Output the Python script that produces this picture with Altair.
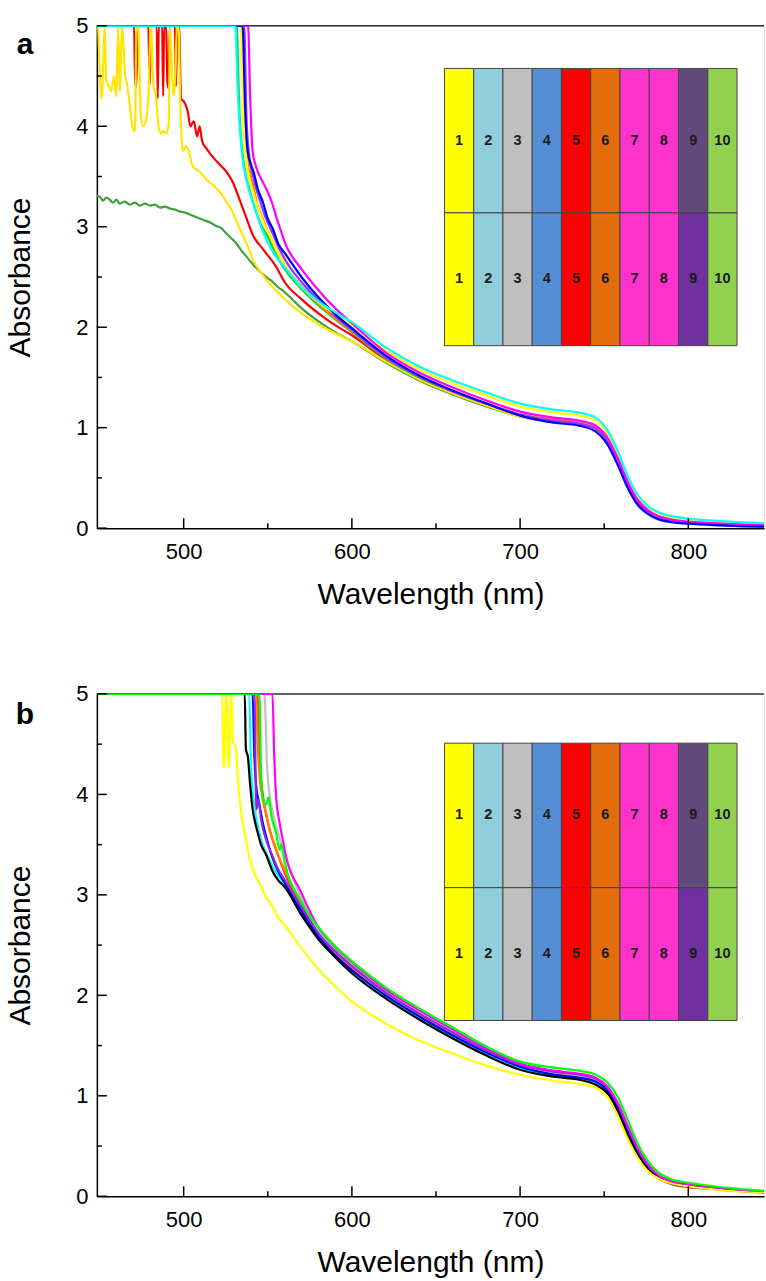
import altair as alt
import pandas as pd

FONT = "Liberation Sans"

# ---------------- shared wavelength grid for the smooth part of every curve ----------------
GRID = [560, 570, 580, 590, 600, 620, 640, 660, 680, 700, 720, 735, 745, 752, 758, 764, 770,
        776, 782, 790, 800, 815, 830, 845]

# ---------------- panel a : heads (short-wavelength part) and tails (values on GRID) ----------------
A_DKGREEN_WL = [445, 450, 452, 454, 456, 458, 460, 462, 465, 468, 471, 474, 477, 480, 483, 486, 489,
                492, 495, 498, 501, 504, 507, 510, 513, 516, 519, 522, 525, 528, 531, 534, 537, 541,
                545, 549, 553, 556]
A_DKGREEN_AB = [3.31, 3.30, 3.26, 3.29, 3.27, 3.24, 3.27, 3.23, 3.25, 3.22, 3.24, 3.21, 3.23, 3.21,
                3.22, 3.19, 3.20, 3.18, 3.17, 3.15, 3.14, 3.12, 3.10, 3.08, 3.06, 3.04, 3.01, 2.99,
                2.94, 2.89, 2.84, 2.77, 2.71, 2.63, 2.56, 2.50, 2.45, 2.40]
A_DKGREEN_TAIL = [2.35, 2.19, 2.06, 1.95, 1.86, 1.65, 1.47, 1.33, 1.21, 1.11, 1.06, 1.04, 0.99, 0.87,
                  0.68, 0.45, 0.27, 0.17, 0.12, 0.08, 0.06, 0.045, 0.035, 0.028]

A_RED_WL = [445, 470.5, 471.2, 471.9, 472.6, 479, 479.8, 480.6, 484, 484.6, 485.2, 487.2, 487.8,
            488.4, 489.6, 490.3, 491, 491.8, 492.5, 494.8, 495.4, 496.2, 497.2, 498.5, 500, 502.4,
            504, 506, 508, 509.5, 511, 513.5, 517, 521.4, 525.3, 529, 533, 537, 541, 547, 555]
A_RED_AB = [5, 5, 4.40, 4.40, 5, 5, 4.42, 5, 5, 4.28, 5, 5, 4.30, 5, 5, 4.45, 4.38, 5, 5, 5, 4.40,
            5, 5, 4.27, 4.25, 4.15, 4.00, 4.05, 3.90, 4.00, 3.85, 3.78, 3.70, 3.62, 3.55, 3.45, 3.28,
            3.10, 2.92, 2.78, 2.60]
A_RED_TAIL = [2.45, 2.28, 2.14, 2.02, 1.92, 1.68, 1.50, 1.35, 1.23, 1.12, 1.07, 1.04, 0.99, 0.87,
              0.67, 0.44, 0.26, 0.16, 0.11, 0.075, 0.055, 0.04, 0.03, 0.022]

A_YEL1_WL = [445, 449, 450, 451, 452, 453, 454, 455.5, 457, 458.5, 460, 461, 462, 463.5, 465, 466.5,
             468, 469.5, 471, 472, 473, 474.5, 476, 477.5, 479, 480.5, 482, 483.5, 485, 486.5, 488,
             489.5, 491, 492, 493, 494, 495, 496, 497, 498, 499.5, 501, 502.5, 505.4, 509.5, 513.5,
             517, 521.4, 525.3, 529, 533.3, 537, 541, 547, 553]
A_YEL1_AB = [5, 5, 4.60, 4.27, 4.50, 5, 4.45, 4.40, 4.35, 4.50, 4.30, 5, 4.35, 5, 4.55, 4.40, 4.20,
             4.00, 3.95, 5, 5, 4.10, 4.00, 4.05, 4.30, 5, 4.40, 4.30, 4.00, 3.93, 3.95, 3.93, 4.00, 5,
             4.60, 4.30, 4.50, 5, 5, 4.20, 3.75, 3.80, 3.78, 3.60, 3.55, 3.47, 3.42, 3.35, 3.25, 3.15,
             2.98, 2.85, 2.68, 2.52, 2.40]
A_YEL1_TAIL = [2.28, 2.14, 2.03, 1.94, 1.86, 1.66, 1.48, 1.34, 1.22, 1.11, 1.06, 1.04, 0.99, 0.87,
               0.68, 0.45, 0.27, 0.17, 0.12, 0.08, 0.06, 0.045, 0.035, 0.028]

A_LIME_WL = [445, 531.5, 533, 536, 539, 542, 546, 550, 555]
A_LIME_AB = [5, 5, 4.20, 3.60, 3.38, 3.20, 3.02, 2.90, 2.72]
A_LIME_TAIL = [2.58, 2.38, 2.22, 2.08, 1.95, 1.69, 1.50, 1.36, 1.24, 1.13, 1.08, 1.05, 1.00, 0.88,
               0.68, 0.45, 0.27, 0.17, 0.12, 0.08, 0.06, 0.045, 0.035, 0.025]

A_ORANGE_WL = [445, 535.5, 536.8, 539, 541.5, 543.4, 547, 550, 555]
A_ORANGE_AB = [5, 5, 4.00, 3.60, 3.40, 3.25, 3.08, 2.96, 2.78]
A_ORANGE_TAIL = [2.62, 2.41, 2.24, 2.09, 1.96, 1.70, 1.51, 1.36, 1.24, 1.13, 1.08, 1.05, 1.00, 0.88,
                 0.68, 0.45, 0.27, 0.17, 0.12, 0.08, 0.06, 0.045, 0.035, 0.025]

A_PURPLE_WL = [445, 536, 537.3, 539, 541, 545, 549, 553, 556]
A_PURPLE_AB = [5, 5, 4.10, 3.70, 3.52, 3.28, 3.08, 2.93, 2.81]
A_PURPLE_TAIL = [2.68, 2.45, 2.27, 2.11, 1.97, 1.70, 1.51, 1.36, 1.24, 1.13, 1.07, 1.04, 0.99, 0.86,
                 0.66, 0.43, 0.26, 0.16, 0.11, 0.075, 0.055, 0.04, 0.03, 0.02]

A_YEL2_WL = [445, 534, 535.3, 537.5, 540, 543, 547, 551, 555]
A_YEL2_AB = [5, 5, 4.10, 3.62, 3.42, 3.25, 3.06, 2.92, 2.78]
A_YEL2_TAIL = [2.62, 2.40, 2.25, 2.13, 2.02, 1.77, 1.58, 1.44, 1.32, 1.21, 1.15, 1.12, 1.07, 0.94,
               0.74, 0.50, 0.31, 0.21, 0.15, 0.11, 0.09, 0.07, 0.055, 0.045]

A_MAGENTA_WL = [445, 538.3, 539.5, 541, 543, 546, 549, 552.3, 555, 558]
A_MAGENTA_AB = [5, 5, 4.30, 3.75, 3.60, 3.48, 3.38, 3.25, 3.10, 2.95]
A_MAGENTA_TAIL = [2.85, 2.58, 2.37, 2.19, 2.04, 1.75, 1.55, 1.40, 1.27, 1.16, 1.10, 1.07, 1.02, 0.90,
                  0.70, 0.46, 0.28, 0.18, 0.12, 0.085, 0.065, 0.05, 0.04, 0.03]

A_BLUE_WL = [445, 535, 536.5, 538, 540, 542, 544, 547, 550, 553, 556.5]
A_BLUE_AB = [5, 5, 4.20, 3.75, 3.62, 3.52, 3.38, 3.25, 3.08, 2.98, 2.82]
A_BLUE_TAIL = [2.74, 2.50, 2.30, 2.13, 1.99, 1.72, 1.52, 1.37, 1.24, 1.12, 1.05, 1.02, 0.96, 0.83,
               0.63, 0.40, 0.23, 0.14, 0.09, 0.06, 0.045, 0.03, 0.02, 0.015]

A_CYAN_WL = [445, 530.7, 532, 534.5, 537.5, 541, 546, 553]
A_CYAN_AB = [5, 5, 4.40, 3.75, 3.45, 3.25, 3.00, 2.75]
A_CYAN_TAIL = [2.60, 2.40, 2.26, 2.15, 2.05, 1.80, 1.61, 1.47, 1.35, 1.24, 1.18, 1.15, 1.10, 0.97,
               0.77, 0.52, 0.33, 0.22, 0.16, 0.12, 0.095, 0.075, 0.06, 0.05]

# ---------------- panel b ----------------
B_RED_WL = [445, 544, 545, 547, 549, 552, 556]
B_RED_AB = [5, 5, 4.40, 4.00, 3.80, 3.60, 3.40]
B_RED_TAIL = [3.22, 2.88, 2.60, 2.41, 2.26, 2.00, 1.80, 1.61, 1.43, 1.29, 1.22, 1.19, 1.15, 1.05,
              0.88, 0.64, 0.42, 0.27, 0.18, 0.12, 0.09, 0.07, 0.05, 0.035]

B_ORANGE_WL = [445, 543, 544, 545, 547, 549, 551, 554, 557]
B_ORANGE_AB = [5, 5, 4.50, 4.20, 3.95, 3.82, 3.65, 3.50, 3.36]
B_ORANGE_TAIL = [3.25, 2.90, 2.62, 2.43, 2.28, 2.02, 1.81, 1.62, 1.44, 1.30, 1.22, 1.19, 1.15, 1.06,
                 0.89, 0.66, 0.44, 0.29, 0.19, 0.13, 0.10, 0.075, 0.055, 0.04]

B_GRAY_WL = [445, 548, 549.5, 551, 553, 556]
B_GRAY_AB = [5, 5, 4.30, 4.00, 3.82, 3.62]
B_GRAY_TAIL = [3.40, 2.97, 2.65, 2.45, 2.30, 2.03, 1.82, 1.63, 1.45, 1.30, 1.23, 1.20, 1.16, 1.07,
               0.90, 0.67, 0.45, 0.30, 0.20, 0.14, 0.11, 0.08, 0.06, 0.045]

B_CYAN_WL = [445, 539, 540, 541.5, 543, 546, 549, 553, 556]
B_CYAN_AB = [5, 5, 4.30, 3.95, 3.78, 3.55, 3.42, 3.28, 3.20]
B_CYAN_TAIL = [3.10, 2.82, 2.58, 2.39, 2.24, 1.98, 1.77, 1.59, 1.42, 1.28, 1.20, 1.17, 1.13, 1.04,
               0.87, 0.63, 0.42, 0.28, 0.19, 0.13, 0.10, 0.075, 0.055, 0.04]

B_BLUE_WL = [445, 541, 542, 543, 545, 547, 550, 553, 556]
B_BLUE_AB = [5, 5, 4.40, 4.10, 3.90, 3.72, 3.52, 3.36, 3.24]
B_BLUE_TAIL = [3.12, 2.84, 2.59, 2.40, 2.25, 2.00, 1.79, 1.60, 1.43, 1.29, 1.21, 1.18, 1.14, 1.05,
               0.88, 0.64, 0.43, 0.28, 0.19, 0.13, 0.10, 0.075, 0.055, 0.04]

B_PURPLE_WL = [445, 542, 543.2, 544.5, 546, 549, 553, 556]
B_PURPLE_AB = [5, 5, 3.85, 3.95, 3.75, 3.55, 3.38, 3.26]
B_PURPLE_TAIL = [3.15, 2.88, 2.62, 2.44, 2.29, 2.03, 1.82, 1.63, 1.45, 1.31, 1.24, 1.21, 1.17, 1.08,
                 0.92, 0.69, 0.47, 0.31, 0.21, 0.15, 0.115, 0.085, 0.065, 0.05]

B_BLACK_WL = [445, 536.3, 537, 538.2, 539.5, 541, 542.5, 544, 546, 549, 553, 556]
B_BLACK_AB = [5, 5, 4.45, 4.37, 4.10, 3.85, 3.72, 3.62, 3.50, 3.40, 3.23, 3.15]
B_BLACK_TAIL = [3.08, 2.80, 2.56, 2.38, 2.22, 1.97, 1.76, 1.57, 1.40, 1.26, 1.19, 1.16, 1.11, 1.02,
                0.85, 0.61, 0.41, 0.27, 0.19, 0.14, 0.11, 0.08, 0.06, 0.045]

B_YELLOW_WL = [445, 523, 523.5, 524.3, 525, 525.7, 526.5, 527.2, 527.8, 528.5, 529.3, 530.3, 531.3,
               532.3, 534.2, 537.2, 539.2, 542, 545.1, 549.1, 553, 556]
B_YELLOW_AB = [5, 5, 4.27, 4.27, 5, 5, 4.27, 4.27, 5, 5, 4.52, 4.50, 4.40, 4.14, 3.81, 3.54, 3.36,
               3.22, 3.11, 2.98, 2.88, 2.78]
B_YELLOW_TAIL = [2.70, 2.47, 2.26, 2.09, 1.94, 1.72, 1.55, 1.42, 1.30, 1.21, 1.15, 1.12, 1.08, 0.99,
                 0.80, 0.57, 0.38, 0.25, 0.18, 0.13, 0.10, 0.07, 0.05, 0.04]

B_MAGENTA_WL = [445, 552.8, 553.8, 555, 557, 559]
B_MAGENTA_AB = [5, 5, 4.40, 3.97, 3.72, 3.54]
B_MAGENTA_TAIL = [3.45, 3.02, 2.68, 2.48, 2.33, 2.06, 1.85, 1.66, 1.47, 1.32, 1.25, 1.22, 1.18, 1.09,
                  0.93, 0.70, 0.48, 0.32, 0.21, 0.15, 0.12, 0.09, 0.065, 0.05]

B_GREEN_WL = [445, 545, 546, 547, 549, 550.5, 552, 555, 557, 558]
B_GREEN_AB = [5, 5, 4.20, 3.97, 3.90, 3.97, 3.80, 3.61, 3.45, 3.50]
B_GREEN_TAIL = [3.33, 2.93, 2.68, 2.49, 2.34, 2.08, 1.87, 1.68, 1.49, 1.34, 1.28, 1.25, 1.21, 1.13,
                0.99, 0.76, 0.52, 0.35, 0.24, 0.17, 0.135, 0.10, 0.075, 0.055]

# ---------------- inset (colour key) ----------------
CELL_LABELS = ["1", "2", "3", "4", "5", "6", "7", "8", "9", "10"]
ROW1_COLORS = ["#FFFF00", "#92CDDC", "#BFBFBF", "#558ED5", "#FF0000", "#E46C0A", "#FF33CC",
               "#FF33CC", "#604A7B", "#92D050"]
ROW2_COLORS = ["#FFFF00", "#92CDDC", "#BFBFBF", "#558ED5", "#FF0000", "#E46C0A", "#FF33CC",
               "#FF33CC", "#7030A0", "#92D050"]

# ---------------- axis tick values ----------------
X_MAJOR = [500, 600, 700, 800]
X_MINOR = [550, 650, 750]
Y_MAJOR = [0, 1, 2, 3, 4, 5]
Y_MINOR = [0.5, 1.5, 2.5, 3.5, 4.5]

# ---------------- series (drawing order) and styles ----------------
SERIES_A = [
    ("dkgreen", A_DKGREEN_WL, A_DKGREEN_AB, A_DKGREEN_TAIL),
    ("red", A_RED_WL, A_RED_AB, A_RED_TAIL),
    ("yel1", A_YEL1_WL, A_YEL1_AB, A_YEL1_TAIL),
    ("lime", A_LIME_WL, A_LIME_AB, A_LIME_TAIL),
    ("orange", A_ORANGE_WL, A_ORANGE_AB, A_ORANGE_TAIL),
    ("purple", A_PURPLE_WL, A_PURPLE_AB, A_PURPLE_TAIL),
    ("yel2", A_YEL2_WL, A_YEL2_AB, A_YEL2_TAIL),
    ("magenta", A_MAGENTA_WL, A_MAGENTA_AB, A_MAGENTA_TAIL),
    ("blue", A_BLUE_WL, A_BLUE_AB, A_BLUE_TAIL),
    ("cyan", A_CYAN_WL, A_CYAN_AB, A_CYAN_TAIL),
]
COLORS_A = {"dkgreen": "#3FA03F", "red": "#FF0000", "yel1": "#FFE500", "lime": "#22CC22",
            "orange": "#FF8800", "purple": "#9933FF", "yel2": "#FFFF00", "magenta": "#FF00FF",
            "blue": "#0000FF", "cyan": "#00FFFF"}

SERIES_B = [
    ("red", B_RED_WL, B_RED_AB, B_RED_TAIL),
    ("orange", B_ORANGE_WL, B_ORANGE_AB, B_ORANGE_TAIL),
    ("gray", B_GRAY_WL, B_GRAY_AB, B_GRAY_TAIL),
    ("cyan", B_CYAN_WL, B_CYAN_AB, B_CYAN_TAIL),
    ("blue", B_BLUE_WL, B_BLUE_AB, B_BLUE_TAIL),
    ("purple", B_PURPLE_WL, B_PURPLE_AB, B_PURPLE_TAIL),
    ("black", B_BLACK_WL, B_BLACK_AB, B_BLACK_TAIL),
    ("yellow", B_YELLOW_WL, B_YELLOW_AB, B_YELLOW_TAIL),
    ("magenta", B_MAGENTA_WL, B_MAGENTA_AB, B_MAGENTA_TAIL),
    ("green", B_GREEN_WL, B_GREEN_AB, B_GREEN_TAIL),
]
COLORS_B = {"red": "#FF3030", "orange": "#FF7F00", "gray": "#C0C0C0", "cyan": "#00FFFF",
            "blue": "#0000FF", "purple": "#8A2BE2", "black": "#000000", "yellow": "#FFFF00",
            "magenta": "#FF00FF", "green": "#00FF00"}

# ---------------- layout ----------------
W = 668
H = 503
X_DOMAIN = [448.4, 845.0]
INSET_X_RANGE = [348, 641]
ROW_SPLIT = 0.521

xs = alt.Scale(domain=X_DOMAIN, nice=False, zero=False)
ys = alt.Scale(domain=[0, 5], nice=False, zero=False)

x_axis = alt.Axis(values=X_MAJOR, format="d", ticks=False, tickSize=0, grid=False,
                  labelPadding=13, labelFontSize=22, labelFont=FONT, labelColor="black",
                  labelFlush=False, title="Wavelength (nm)", titleFont=FONT, titleFontSize=30,
                  titleFontWeight="normal", titleColor="black", titlePadding=17,
                  domainColor="black", domainWidth=1.5)
y_axis = alt.Axis(values=Y_MAJOR, format="d", ticks=False, tickSize=0, grid=False,
                  labelPadding=9, labelFontSize=22, labelFont=FONT, labelColor="black",
                  labelFlush=False, labelOverlap=False, title="Absorbance", titleFont=FONT,
                  titleFontSize=30, titleFontWeight="normal", titleColor="black",
                  titlePadding=40, domainColor="black", domainWidth=1.5)


def make_panel(series, colors, letter, letter_y, inset_y_range):
    x_enc = alt.X("wl:Q", scale=xs, axis=x_axis)
    y_enc = alt.Y("ab:Q", scale=ys, axis=y_axis)

    layers = []
    # top frame line at A = 5
    layers.append(alt.Chart(pd.DataFrame({"ab": [5]})).mark_rule(color="#333333", strokeWidth=1.5)
                  .encode(y=y_enc))
    for name, wl, ab, tail in series:
        df = pd.DataFrame({"wl": list(wl) + GRID, "ab": list(ab) + list(tail)})
        layers.append(alt.Chart(df).mark_line(color=colors[name], strokeWidth=2.2,
                                              interpolate="monotone", clip=True)
                      .encode(x=x_enc, y=y_enc))
    # inward ticks
    layers.append(alt.Chart(pd.DataFrame({"wl": X_MAJOR})).mark_rule(color="black", strokeWidth=1.5)
                  .encode(x=x_enc, y=alt.value(H), y2=alt.value(H - 10)))
    layers.append(alt.Chart(pd.DataFrame({"wl": X_MINOR})).mark_rule(color="black", strokeWidth=1.5)
                  .encode(x=x_enc, y=alt.value(H), y2=alt.value(H - 5)))
    layers.append(alt.Chart(pd.DataFrame({"ab": Y_MAJOR})).mark_rule(color="black", strokeWidth=1.5)
                  .encode(y=y_enc, x=alt.value(0), x2=alt.value(10)))
    layers.append(alt.Chart(pd.DataFrame({"ab": Y_MINOR})).mark_rule(color="black", strokeWidth=1.5)
                  .encode(y=y_enc, x=alt.value(0), x2=alt.value(5)))
    # panel letter
    layers.append(alt.Chart(pd.DataFrame({"t": [letter]}))
                  .mark_text(font=FONT, fontSize=30, fontWeight="bold", align="center",
                             baseline="alphabetic", color="black")
                  .encode(x=alt.value(-72), y=alt.value(letter_y), text="t:N"))
    main = alt.layer(*layers)

    # colour key inset
    rows = []
    for i, lab in enumerate(CELL_LABELS):
        rows.append({"c0": i, "c1": i + 1, "cx": i + 0.5, "r0": 0.0, "r1": ROW_SPLIT,
                     "ry": ROW_SPLIT / 2, "fill": ROW1_COLORS[i], "label": lab})
        rows.append({"c0": i, "c1": i + 1, "cx": i + 0.5, "r0": ROW_SPLIT, "r1": 1.0,
                     "ry": (ROW_SPLIT + 1) / 2, "fill": ROW2_COLORS[i], "label": lab})
    cells = pd.DataFrame(rows)
    ixs = alt.Scale(domain=[0, 10], range=INSET_X_RANGE, nice=False, zero=False)
    iys = alt.Scale(domain=[0, 1], range=inset_y_range, nice=False, zero=False)
    rect = alt.Chart(cells).mark_rect(stroke="#444444", strokeWidth=1).encode(
        x=alt.X("c0:Q", scale=ixs, axis=None), x2="c1:Q",
        y=alt.Y("r0:Q", scale=iys, axis=None), y2="r1:Q",
        color=alt.Color("fill:N", scale=None))
    txt = alt.Chart(cells).mark_text(font=FONT, fontSize=14.5, fontWeight="bold",
                                     color="#1a1a1a").encode(
        x=alt.X("cx:Q", scale=ixs, axis=None),
        y=alt.Y("ry:Q", scale=iys, axis=None),
        text="label:N")
    inset = alt.layer(rect, txt)

    return (alt.layer(main, inset)
            .resolve_scale(x="independent", y="independent")
            .properties(width=W, height=H))


panel_a = make_panel(SERIES_A, COLORS_A, "a", 28, [42.7, 320.3])
panel_b = make_panel(SERIES_B, COLORS_B, "b", 30, [49.3, 327.0])

chart = (alt.vconcat(panel_a, panel_b, spacing=72)
         .properties(padding={"left": 5, "top": 13, "right": 0, "bottom": 0})
         .configure_view(stroke=None)
         .configure(font=FONT))

chart.save("out.html", embed_options={"renderer": "svg", "actions": False})
